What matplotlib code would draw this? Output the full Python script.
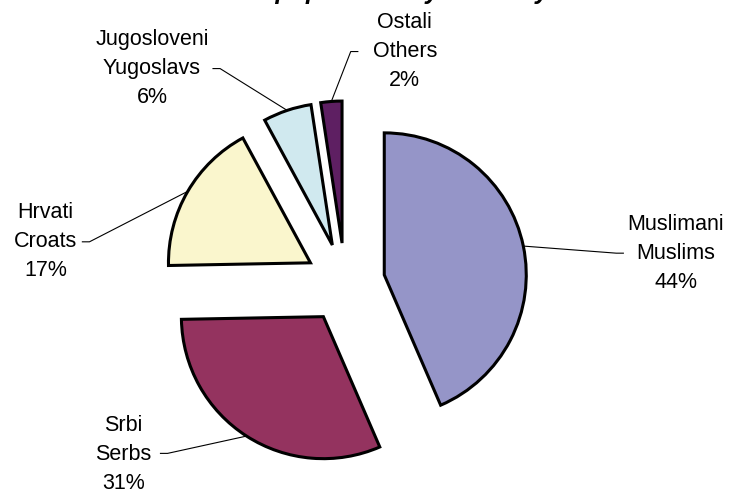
import matplotlib.pyplot as plt
import numpy as np

plt.rcParams['font.family'] = ['Liberation Sans', 'DejaVu Sans']

# ------------------------------------------------------------------ #
# data (1991 census shares, %)
# ------------------------------------------------------------------ #

names_local = ["Muslimani", "Srbi", "Hrvati", "Jugosloveni", "Ostali"]
names_en = ["Muslims", "Serbs", "Croats", "Yugoslavs", "Others"]
shares = [43.5, 31.2, 17.4, 5.5, 2.4]

colors = ["#9595C8", "#94335F", "#FAF6CD", "#D0E9EF", "#5E1F62"]

title = "1991 population by ethnicity"

# label placement, in pie-radius units (layout only)
label_pos = [(2.33, 0.21), (-1.56, -1.21), (-2.11, 0.29), (-1.36, 1.51), (0.42, 1.63)]
line_end = [(1.96, 0.21), (-1.30, -1.20), (-1.85, 0.29), (-0.93, 1.51), (0.09, 1.63)]


fig = plt.figure(figsize=(7.32, 4.93), dpi=100)
ax = fig.add_axes([0, 0, 1, 1])

wedges, _ = ax.pie(shares, colors=colors, startangle=90, counterclock=False,
                   explode=[0.282] * len(shares),
                   wedgeprops=dict(edgecolor="black", linewidth=2.2))

for w, loc, en, v, tp, le in zip(wedges, names_local, names_en, shares,
                                 label_pos, line_end):
    th = np.deg2rad((w.theta1 + w.theta2) / 2)
    cx, cy = w.center
    ax0 = cx + w.r * np.cos(th)
    ay0 = cy + w.r * np.sin(th)
    side = 1 if le[0] > ax0 else -1
    elbow = (le[0] - side * 0.05, le[1])
    ax.plot([ax0, elbow[0], le[0]], [ay0, elbow[1], le[1]],
            c="black", lw=0.8, zorder=0)
    ax.text(tp[0], tp[1], f"{loc}\n{en}\n{int(v + 0.5)}%",
            ha="center", va="center", multialignment="center",
            fontsize=15.5, linespacing=1.5)

ax.set_xlim(-2.430, 2.725)
ax.set_ylim(-1.479, 1.993)
ax.set_aspect("equal")
ax.axis("off")

# title sits mostly above the top edge, as in the original
fig.text(0.52, 1 + 0.5 / 493, title, ha="center", va="baseline",
         style="italic", weight="bold", fontsize=18)

fig.savefig("out.png", dpi=100)
